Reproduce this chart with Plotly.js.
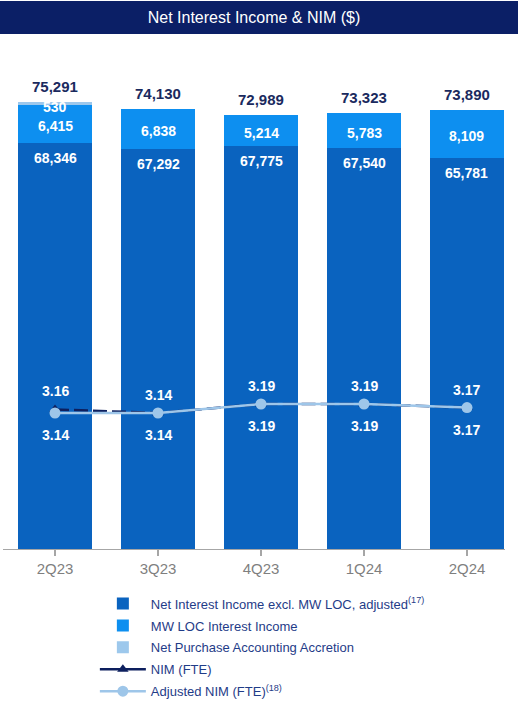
<!DOCTYPE html>
<html>
<head>
<meta charset="utf-8">
<script src="https://cdn.plot.ly/plotly-3.0.1.min.js"></script>
<style>
  html, body { margin: 0; padding: 0; background: #ffffff; }
  #chart { width: 520px; height: 704px; }
</style>
</head>
<body>
<div id="chart"></div>
<script>
// ---- data ----
const categories = ['2Q23', '3Q23', '4Q23', '1Q24', '2Q24'];
const niiExclMw = [68346, 67292, 67775, 67540, 65781];
const mwLocIncome = [6415, 6838, 5214, 5783, 8109];
const purchaseAccretion = [530, 0, 0, 0, 0];
const totals = [75291, 74130, 72989, 73323, 73890];
const nimFte = [3.16, 3.14, 3.19, 3.19, 3.17];
const adjNimFte = [3.14, 3.14, 3.19, 3.19, 3.17];

// ---- styles ----
const FONT = 'Liberation Sans, Arial, sans-serif';
const C_DARK = '#0a63bf';
const C_MW = '#0d8ff0';
const C_LIGHT = '#9dc8ec';
const C_NIM = '#0d1f5e';
const C_ADJ = '#9ec6e9';
const C_NAVY = '#0b1f66';

const fmt = v => v.toLocaleString('en-US');

const traces = [
  {
    type: 'bar', name: 'Net Interest Income excl. MW LOC, adjusted<sup>(17)</sup>',
    legendrank: 1, legendgroup: 'g1',
    x: categories, y: niiExclMw, marker: { color: C_DARK }, hoverinfo: 'skip'
  },
  {
    type: 'bar', name: 'MW LOC Interest Income',
    legendrank: 2, legendgroup: 'g2',
    x: categories, y: mwLocIncome, marker: { color: C_MW }, hoverinfo: 'skip'
  },
  {
    type: 'bar', name: 'Net Purchase Accounting Accretion',
    legendrank: 3, legendgroup: 'g3',
    x: categories, y: purchaseAccretion, marker: { color: C_LIGHT }, hoverinfo: 'skip'
  },
  {
    type: 'scatter', mode: 'lines+markers', name: 'NIM (FTE)', showlegend: false,
    x: categories, y: nimFte, yaxis: 'y2',
    line: { color: C_NIM, width: 2.5, dash: '14px,5px' },
    marker: { symbol: 'triangle-up', size: 10, color: C_NIM }, hoverinfo: 'skip'
  },
  {
    type: 'scatter', mode: 'lines+markers', name: 'NIM (FTE)',
    legendrank: 4, legendgroup: 'g4',
    x: [null], y: [null], yaxis: 'y2',
    line: { color: C_NIM, width: 2.5 },
    marker: { symbol: 'triangle-up', size: 10, color: C_NIM }, hoverinfo: 'skip'
  },
  {
    type: 'scatter', mode: 'lines+markers', name: 'Adjusted NIM (FTE)<sup>(18)</sup>',
    legendrank: 5, legendgroup: 'g5',
    x: categories, y: adjNimFte, yaxis: 'y2',
    line: { color: C_ADJ, width: 2.5 },
    marker: { symbol: 'circle', size: 11, color: C_ADJ }, hoverinfo: 'skip'
  }
];

const annotations = [];
categories.forEach((c, i) => {
  annotations.push({ x: c, y: totals[i], yref: 'y', text: fmt(totals[i]), showarrow: false,
    yshift: 15.5, font: { family: FONT, size: 15, color: '#1a2a5e', weight: 'bold' } });
  annotations.push({ x: c, y: niiExclMw[i], yref: 'y', text: fmt(niiExclMw[i]), showarrow: false,
    yshift: -15, font: { family: FONT, size: 14, color: '#ffffff', weight: 'bold' } });
  annotations.push({ x: c, y: niiExclMw[i] + mwLocIncome[i] / 2, yref: 'y', text: fmt(mwLocIncome[i]), showarrow: false,
    yshift: -2, font: { family: FONT, size: 14, color: '#ffffff', weight: 'bold' } });
  if (purchaseAccretion[i] > 0) {
    annotations.push({ x: c, y: niiExclMw[i] + mwLocIncome[i] + purchaseAccretion[i] / 2, yref: 'y',
      text: fmt(purchaseAccretion[i]), showarrow: false,
      yshift: -4, font: { family: FONT, size: 14, color: '#ffffff', weight: 'bold' } });
  }
  annotations.push({ x: c, y: nimFte[i], yref: 'y2', text: nimFte[i].toFixed(2), showarrow: false,
    yshift: 18, font: { family: FONT, size: 14, color: '#ffffff', weight: 'bold' } });
  annotations.push({ x: c, y: adjNimFte[i], yref: 'y2', text: adjNimFte[i].toFixed(2), showarrow: false,
    yshift: -22, font: { family: FONT, size: 14, color: '#ffffff', weight: 'bold' } });
});

const layout = {
  width: 520, height: 704,
  margin: { l: 3, r: 15, t: 40, b: 155, pad: 0, autoexpand: false },
  paper_bgcolor: '#ffffff', plot_bgcolor: '#ffffff',
  font: { family: FONT },
  barmode: 'stack', bargap: 0.282,
  title: {
    text: 'Net Interest Income & NIM ($)',
    x: 0.5, xref: 'paper', xanchor: 'center',
    y: 1 - 17.5 / 704, yref: 'container', yanchor: 'middle',
    font: { family: FONT, size: 16, color: '#ffffff' }
  },
  shapes: [{
    type: 'rect', xref: 'paper', yref: 'paper', layer: 'below',
    x0: -3 / 502, x1: 515 / 502, y0: 515 / 509, y1: 548 / 509,
    fillcolor: C_NAVY, line: { width: 0 }
  }],
  xaxis: {
    type: 'category', range: [-0.505, 4.369], fixedrange: true,
    showline: true, linecolor: '#a6a6a6', linewidth: 1.3,
    ticks: 'outside', ticklen: 6, tickcolor: '#a6a6a6', tickwidth: 1.3,
    showgrid: false, zeroline: false,
    tickfont: { family: FONT, size: 15, color: '#7f7f7f' }
  },
  yaxis: {
    range: [0, 85690], visible: false, showgrid: false, zeroline: false, fixedrange: true
  },
  yaxis2: {
    range: [2.3844, 5.2122], overlaying: 'y', side: 'right', visible: false,
    showgrid: false, zeroline: false, fixedrange: true
  },
  legend: {
    orientation: 'v', traceorder: 'grouped',
    x: 0.183, xanchor: 'left', y: -0.0778, yanchor: 'top',
    itemwidth: 46, bgcolor: 'rgba(0,0,0,0)',
    font: { family: FONT, size: 13, color: '#1f3c88' },
    tracegroupgap: 2
  },
  annotations: annotations,
  showlegend: true
};

Plotly.newPlot('chart', traces, layout, { staticPlot: true, displayModeBar: false });
</script>
</body>
</html>
